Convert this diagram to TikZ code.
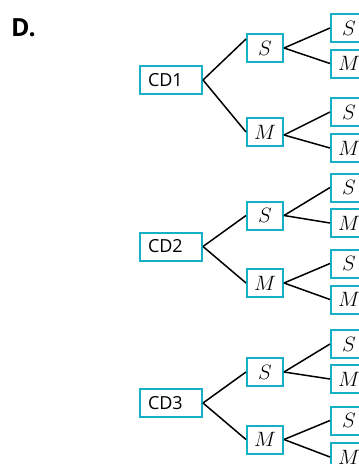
\documentclass[tikz,border=0pt]{standalone}
\usepackage{fontspec}
\setmainfont{Open Sans}
\usetikzlibrary{calc}
\definecolor{boxteal}{RGB}{22,176,198}
\begin{document}
\begin{tikzpicture}[x=1pt,y=-1pt,
  box/.style={draw=boxteal,line width=2pt,minimum height=28pt,inner sep=0pt},
  rootbox/.style={box,text width=46pt,align=left,inner xsep=8pt,font=\fontsize{18}{20}\selectfont},
  varbox/.style={box,minimum width=36pt,font=\fontsize{20}{22}\selectfont},
  link/.style={draw=black,line width=1.5pt}]
\useasboundingbox (0,0) rectangle (359,464);
\clip (0,0) rectangle (359,464);
\node[anchor=base west,inner sep=0pt,font=\bfseries\fontsize{25}{28}\selectfont] (lbl) at (11,36) {D.};
% group 1
\node[rootbox] (R1) at (171,80) {CD1};
\node[varbox] (S1) at (265,48) {$S$};
\node[varbox] (M1) at (265,132) {$M$};
\node[varbox] (S1S) at (349,28) {$S$};
\node[varbox] (S1M) at (349,63.5) {$M$};
\node[varbox] (M1S) at (349,112) {$S$};
\node[varbox] (M1M) at (349,148) {$M$};
% group 2
\node[rootbox] (R2) at (171,246.5) {CD2};
\node[varbox] (S2) at (265,215.5) {$S$};
\node[varbox] (M2) at (265,283) {$M$};
\node[varbox] (S2S) at (349,187.5) {$S$};
\node[varbox] (S2M) at (349,223) {$M$};
\node[varbox] (M2S) at (349,263.5) {$S$};
\node[varbox] (M2M) at (349,299.5) {$M$};
% group 3
\node[rootbox] (R3) at (171,403) {CD3};
\node[varbox] (S3) at (265,372) {$S$};
\node[varbox] (M3) at (265,439.5) {$M$};
\node[varbox] (S3S) at (349,344) {$S$};
\node[varbox] (S3M) at (349,379) {$M$};
\node[varbox] (M3S) at (349,420.5) {$S$};
\node[varbox] (M3M) at (349,457) {$M$};
% connectors
\draw[link] (R1.east) -- ([yshift=9pt]S1.west);
\draw[link] (R1.east) -- (M1.west);
\draw[link] (S1.east) -- (S1S.west);
\draw[link] (S1.east) -- (S1M.west);
\draw[link] ([yshift=-3pt]M1.east) -- (M1S.west);
\draw[link] ([yshift=-3pt]M1.east) -- (M1M.west);
\draw[link] (R2.east) -- (S2.west);
\draw[link] (R2.east) -- (M2.west);
\draw[link] (S2.east) -- (S2S.west);
\draw[link] (S2.east) -- (S2M.west);
\draw[link] (M2.east) -- (M2S.west);
\draw[link] (M2.east) -- (M2M.west);
\draw[link] (R3.east) -- (S3.west);
\draw[link] (R3.east) -- (M3.west);
\draw[link] (S3.east) -- (S3S.west);
\draw[link] (S3.east) -- (S3M.west);
\draw[link] (M3.east) -- (M3S.west);
\draw[link] (M3.east) -- (M3M.west);
\end{tikzpicture}
\end{document}
